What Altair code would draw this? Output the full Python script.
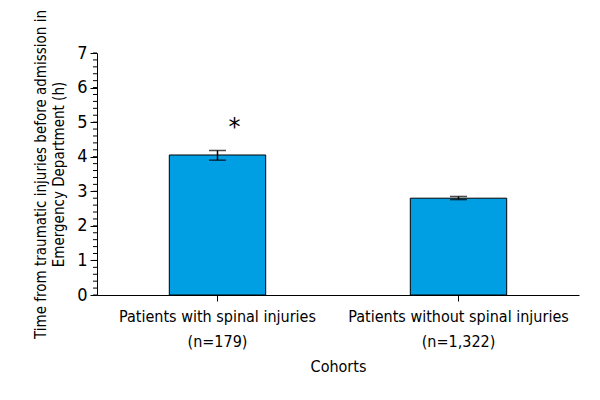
import altair as alt
import pandas as pd

categories = ["Patients with spinal injuries|(n=179)", "Patients without spinal injuries|(n=1,322)"]
means = [4.05, 2.80]
err_low = [3.90, 2.76]
err_high = [4.18, 2.85]
star_cat = [categories[0]]
star_y = [5.0]
y_ticks = [0, 1, 2, 3, 4, 5, 6, 7]
minor_ticks = [round(i * 0.2, 1) for i in range(36)]

df = pd.DataFrame({"cohort": categories, "mean": means, "lo": err_low, "hi": err_high})
star = pd.DataFrame({"cohort": star_cat, "y": star_y, "t": ["*"]})
minor_df = pd.DataFrame({"v": minor_ticks})

FONT = "DejaVu Sans Condensed, Roboto, sans-serif"

xaxis = alt.Axis(labelAngle=0, labelExpr="split(datum.label, '|')",
                 labelFontSize=16, labelFont=FONT, labelColor="black", labelLimit=0,
                 titleFontSize=16, titleFont=FONT, titleFontWeight="normal", titleColor="black",
                 domainColor="black", tickColor="black", tickSize=6, labelPadding=7,
                 titlePadding=9, labelLineHeight=25)
xscale = alt.Scale(paddingInner=0.6, paddingOuter=0.3)
yscale = alt.Scale(domain=[0, 7], nice=False)
ytitle = ["Time from traumatic injuries before  admission in", "Emergency Department (h)"]
yaxis = alt.Axis(values=y_ticks, labelFontSize=18, labelFont=FONT, labelColor="black",
                 titleFontSize=15, titleFont=FONT, titleFontWeight="normal", titleColor="black",
                 domainColor="black", tickColor="black", tickSize=7, grid=False, labelOverlap=False,
                 labelPadding=3, titlePadding=10, titleLineHeight=18)


def X():
    return alt.X("cohort:N", sort=categories, title="Cohorts", scale=xscale, axis=xaxis)


def Y(field):
    return alt.Y(field, scale=yscale, title=ytitle, axis=yaxis)


bars = alt.Chart(df).mark_bar(color="#009FE3", stroke="black", strokeWidth=1).encode(
    x=X(), y=Y("mean:Q"))

minor = alt.Chart(minor_df).mark_rule(color="black", strokeWidth=1).encode(
    x=alt.value(-4), x2=alt.value(0), y=Y("v:Q"))

rule = alt.Chart(df).mark_rule(color="black", strokeWidth=1.5).encode(
    x=X(), y=Y("lo:Q"), y2="hi:Q")
cap_lo = alt.Chart(df).mark_tick(color="black", size=17, thickness=1.5).encode(
    x=X(), y=Y("lo:Q"))
cap_hi = alt.Chart(df).mark_tick(color="black", size=17, thickness=1.5).encode(
    x=X(), y=Y("hi:Q"))

stars = alt.Chart(star).mark_text(fontSize=24, font="DejaVu Sans", dx=17, dy=6, color="black").encode(
    x=X(), y=Y("y:Q"), text="t:N")

chart = alt.layer(bars, minor, rule, cap_lo, cap_hi, stars).properties(
    width=482, height=242,
    autosize=alt.AutoSizeParams(type="none"),
    padding={"left": 89, "top": 45, "right": 13, "bottom": 97},
).configure_view(stroke=None).configure_axis(grid=False)

chart.save("out.html", embed_options={"renderer": "svg", "actions": False})
